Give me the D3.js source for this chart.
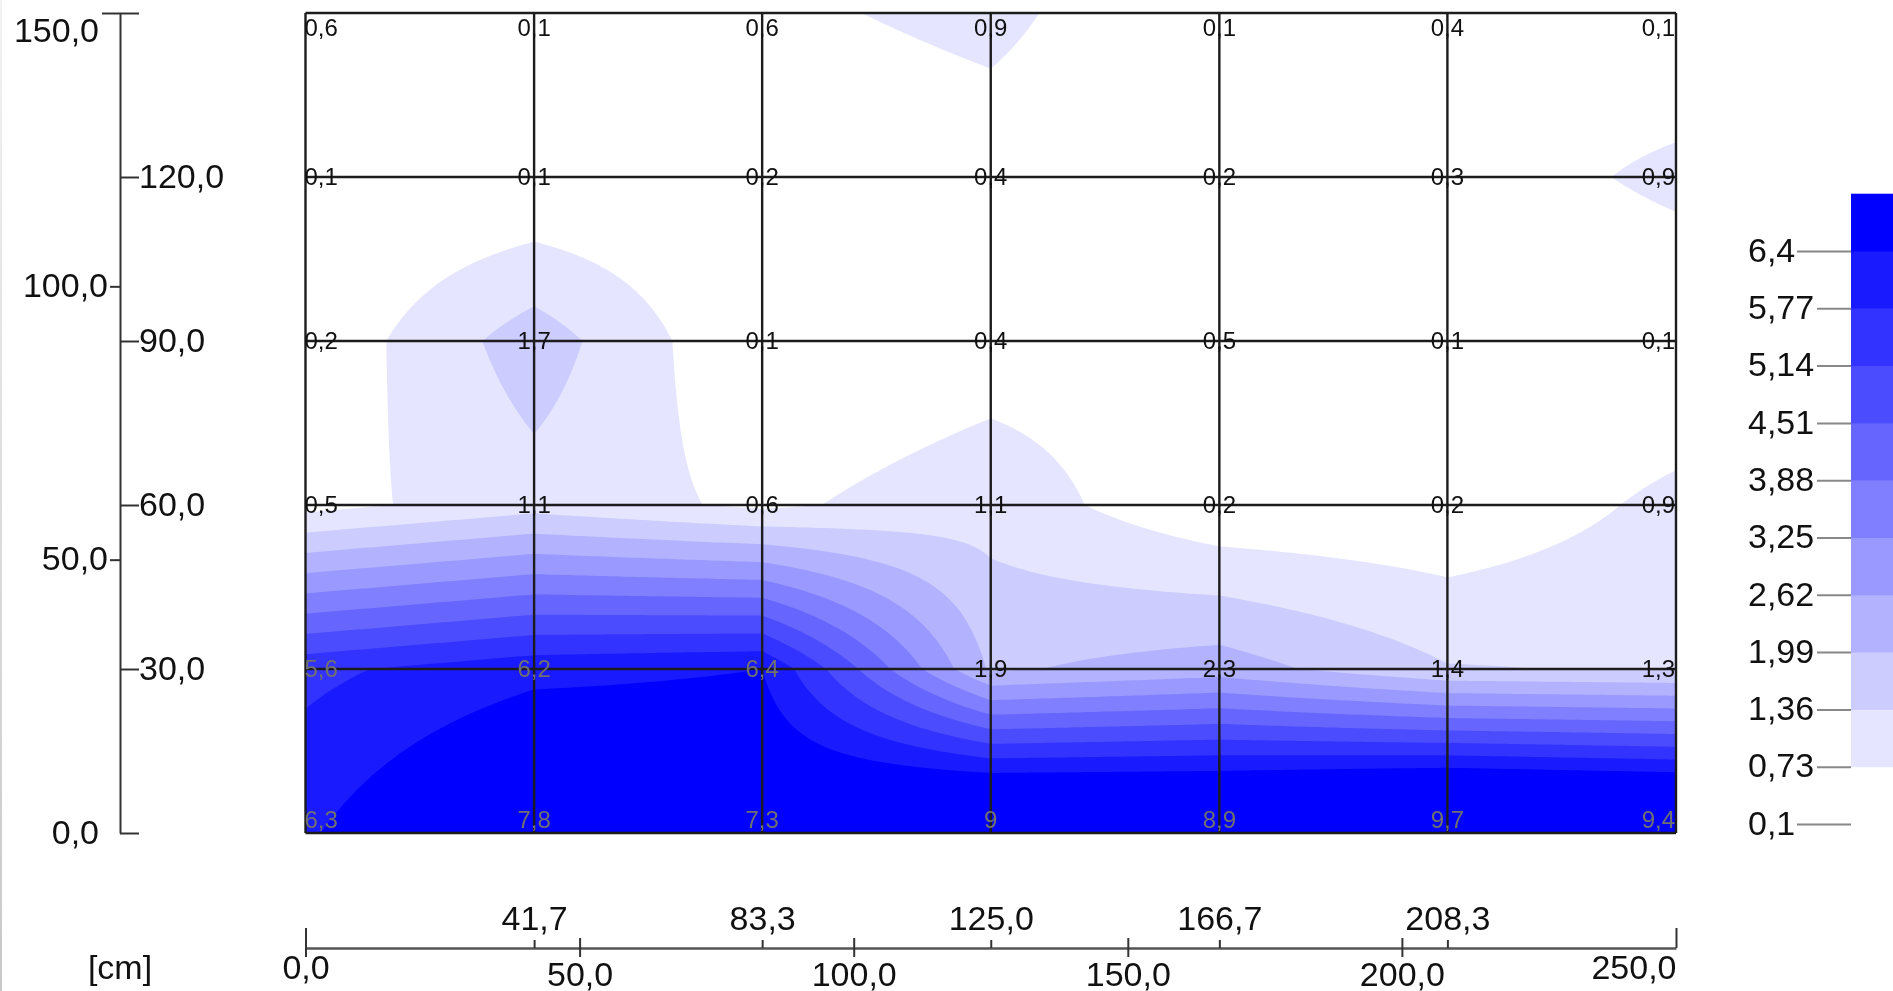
<!DOCTYPE html>
<html>
<head>
<meta charset="utf-8">
<script src="https://cdn.jsdelivr.net/npm/d3@7"></script>
<style>
    html, body { margin: 0; background: white; overflow: hidden; }
    svg { display: block; filter: blur(0.6px); }
    text { font-family: "Liberation Sans", Arial, sans-serif; fill: #111; }
</style>
</head>
<body>
<div id="chart"></div>
<script>
// measured values, rows from the top of the plot (150 cm) down to 0 cm
const rowHeights = [150, 120, 90, 60, 30, 0];
const colPositions = [0, 41.7, 83.3, 125, 166.7, 208.3, 250];
const row150 = [0.6, 0.1, 0.6, 0.9, 0.1, 0.4, 0.1];
const row120 = [0.1, 0.1, 0.2, 0.4, 0.2, 0.3, 0.9];
const row90 = [0.2, 1.7, 0.1, 0.4, 0.5, 0.1, 0.1];
const row60 = [0.5, 1.1, 0.6, 1.1, 0.2, 0.2, 0.9];
const row30 = [5.6, 6.2, 6.4, 1.9, 2.3, 1.4, 1.3];
const row0 = [6.3, 7.8, 7.3, 9, 8.9, 9.7, 9.4];
const rows = [row150, row120, row90, row60, row30, row0];

const levels = [0.1, 0.73, 1.36, 1.99, 2.62, 3.25, 3.88, 4.51, 5.14, 5.77, 6.4];
const levelColors = ["#ffffff", "#e5e5ff", "#ccccff", "#b2b2ff", "#9999ff", "#7f7fff", "#6666ff", "#4c4cff", "#3333ff", "#1a1aff", "#0000ff"];

const yTicksRight = [150, 120, 90, 60, 30, 0];
const yTicksLeft = [150, 100, 50, 0];
const xTicksBottom = [0, 50, 100, 150, 200, 250];
const xTicksTop = [41.7, 83.3, 125, 166.7, 208.3];

const width = 1893;
const height = 991;
const plot = { left: 305.5, right: 1676, top: 13, bottom: 833 };

const comma = d => String(d).replace(".", ",");
const oneDec = d => d3.format(".1f")(d).replace(".", ",");

const svg = d3.select("#chart").append("svg")
    .attr("width", width)
    .attr("height", height);

const xScale = d3.scaleLinear().domain([0, 250]).range([plot.left, plot.right]);
const yScale = d3.scaleLinear().domain([0, 150]).range([plot.bottom, plot.top]);

// grid index -> pixel
const colPx = d3.scaleLinear().domain(d3.range(colPositions.length)).range(colPositions.map(xScale));
const rowPx = d3.scaleLinear().domain(d3.range(rowHeights.length)).range(rowHeights.map(yScale));

// gray edge of the scanned page
const defs = svg.append("defs");
const edge = defs.append("linearGradient").attr("id", "edge").attr("x2", 0).attr("y2", 1);
edge.append("stop").attr("offset", 0).attr("stop-color", "#f2f2f2");
edge.append("stop").attr("offset", 1).attr("stop-color", "#c8c8c8");
svg.append("rect").attr("width", 2).attr("height", height).attr("fill", "url(#edge)");

defs.append("clipPath").attr("id", "plot-clip").append("rect")
    .attr("x", plot.left).attr("y", plot.top)
    .attr("width", plot.right - plot.left).attr("height", plot.bottom - plot.top);

// ========= Contour bands, bilinear between the measuring points
const k = 40;
const nx = (colPositions.length - 1) * k + 1;
const ny = (rowHeights.length - 1) * k + 1;
const field = new Float64Array(nx * ny);
for (let j = 0; j < ny; j++) {
    for (let i = 0; i < nx; i++) {
        const c = Math.min(Math.floor(i / k), colPositions.length - 2);
        const r = Math.min(Math.floor(j / k), rowHeights.length - 2);
        const u = i / k - c;
        const v = j / k - r;
        field[j * nx + i] = (1 - v) * ((1 - u) * rows[r][c] + u * rows[r][c + 1])
            + v * ((1 - u) * rows[r + 1][c] + u * rows[r + 1][c + 1]);
    }
}

const contours = d3.contours().size([nx, ny]).thresholds(levels.slice(1))(field);
const project = d3.geoTransform({
    point(x, y) {
        const c = Math.max(0, Math.min(colPositions.length - 1, (x - 0.5) / k));
        const r = Math.max(0, Math.min(rowHeights.length - 1, (y - 0.5) / k));
        this.stream.point(colPx(c), rowPx(r));
    }
});
const contourPath = d3.geoPath(project);

svg.append("g")
    .attr("clip-path", "url(#plot-clip)")
    .selectAll("path")
    .data(contours)
    .enter()
    .append("path")
    .attr("d", contourPath)
    .attr("fill", (d, i) => levelColors[i + 1]);

// ========= Grid
const grid = svg.append("g")
    .attr("stroke", "#1c1c1c")
    .attr("stroke-width", 2.4);

grid.selectAll(".v")
    .data(colPositions)
    .enter()
    .append("line")
    .attr("x1", d => xScale(d)).attr("x2", d => xScale(d))
    .attr("y1", plot.top).attr("y2", plot.bottom);

grid.selectAll(".h")
    .data(rowHeights)
    .enter()
    .append("line")
    .attr("x1", plot.left).attr("x2", plot.right)
    .attr("y1", d => yScale(d)).attr("y2", d => yScale(d));

// ========= Values at the grid points
const lastCol = colPositions.length - 1;
const points = rows.flatMap((row, r) => row.map((value, c) => ({ value, r, c })));

svg.append("g")
    .selectAll("text")
    .data(points)
    .enter()
    .append("text")
    .attr("x", d => d.c === 0 ? plot.left - 1 : d.c === lastCol ? plot.right - 1 : xScale(colPositions[d.c]))
    .attr("y", d => d.r === 0 ? yScale(rowHeights[0]) + 14.5 : d.r === rows.length - 1 ? yScale(0) - 13 : yScale(rowHeights[d.r]))
    .attr("dy", "0.35em")
    .attr("text-anchor", d => d.c === 0 ? "start" : d.c === lastCol ? "end" : "middle")
    .style("font-size", "24px")
    .style("fill", d => d.value >= 5 ? "#707070" : "#111")
    .text(d => comma(d.value));

// ========= Left axis
const styleAxis = g => {
    g.selectAll("line").attr("stroke", "#333").attr("stroke-width", 2);
    g.selectAll(".domain").attr("stroke", "#333").attr("stroke-width", 2);
    g.selectAll("text").style("font-size", "34px").attr("dy", "0.3em");
};

svg.append("g")
    .attr("transform", "translate(120,0)")
    .call(d3.axisRight(yScale)
        .tickValues(yTicksRight)
        .tickSize(19)
        .tickSizeOuter(0)
        .tickPadding(0)
        .tickFormat(d => (d === 150 || d === 0) ? "" : oneDec(d)))
    .call(styleAxis);

const yLeft = svg.append("g")
    .attr("transform", "translate(120,0)")
    .call(d3.axisLeft(yScale)
        .tickValues(yTicksLeft)
        .tickSize(10)
        .tickSizeOuter(0)
        .tickPadding(2)
        .tickFormat(oneDec))
    .call(styleAxis);

yLeft.select(".domain").remove();
yLeft.selectAll(".tick").filter(d => d === 0).select("line").remove();
yLeft.selectAll(".tick").filter(d => d === 0).select("text").attr("x", -21);
yLeft.selectAll(".tick").filter(d => d === 150).select("line").attr("x2", -18);
yLeft.selectAll(".tick").filter(d => d === 150).select("text").attr("x", -21).attr("y", 18);

// ========= Bottom axes
const axisY = 948;

const xBottom = svg.append("g")
    .attr("transform", `translate(0,${axisY})`)
    .call(d3.axisBottom(xScale)
        .tickValues(xTicksBottom)
        .tickSize(9)
        .tickSizeOuter(0)
        .tickFormat(oneDec))
    .call(styleAxis);

xBottom.selectAll(".tick text").attr("y", 28).attr("dy", "0.3em");
xBottom.selectAll(".tick").filter(d => d === 0 || d === 250).select("line").attr("y1", -20);
xBottom.selectAll(".tick").filter(d => d === 0 || d === 250).select("text").attr("y", 21);
xBottom.selectAll(".tick").filter(d => d === 250).select("line").attr("y2", 0);
xBottom.selectAll(".tick").filter(d => d === 250).select("text")
    .attr("text-anchor", "end");
xBottom.selectAll(".tick").filter(d => d === 50 || d === 100 || d === 150 || d === 200).select("line").attr("y1", -10);
xBottom.select(".domain").attr("stroke", "#555").attr("stroke-width", 2.5);

const xTop = svg.append("g")
    .attr("transform", `translate(0,${axisY})`)
    .call(d3.axisTop(xScale)
        .tickValues(xTicksTop)
        .tickSize(8)
        .tickSizeOuter(0)
        .tickFormat(oneDec))
    .call(styleAxis);

xTop.select(".domain").remove();
xTop.selectAll(".tick text").attr("y", -28).attr("dy", "0.3em");

svg.append("text")
    .attr("x", 120)
    .attr("y", 969)
    .attr("dy", "0.3em")
    .attr("text-anchor", "middle")
    .style("font-size", "34px")
    .text("[cm]");

// ========= Legend
const legendScale = d3.scaleLinear()
    .domain([levels[0], levels[levels.length - 1]])
    .range([824, 251]);
const legendStep = legendScale(levels[0]) - legendScale(levels[1]);
const legendX = 1851;

svg.append("g")
    .selectAll("rect")
    .data(levels.slice(1))
    .enter()
    .append("rect")
    .attr("x", legendX)
    .attr("y", d => legendScale(d) - legendStep)
    .attr("width", width - legendX)
    .attr("height", legendStep + 0.5)
    .attr("fill", (d, i) => levelColors[i + 1]);

const legendAxis = svg.append("g")
    .attr("transform", `translate(${legendX},0)`)
    .call(d3.axisLeft(legendScale)
        .tickValues(levels)
        .tickSize(34)
        .tickSizeOuter(0)
        .tickFormat(comma));

legendAxis.select(".domain").remove();
legendAxis.selectAll("line")
    .attr("stroke", "#888")
    .attr("stroke-width", 2)
    .attr("x2", d => (d === 0.1 || d === 6.4) ? -54 : -34);
legendAxis.selectAll("text")
    .attr("x", -103)
    .attr("dy", "0.3em")
    .attr("text-anchor", "start")
    .style("font-size", "34px");
</script>
</body>
</html>
